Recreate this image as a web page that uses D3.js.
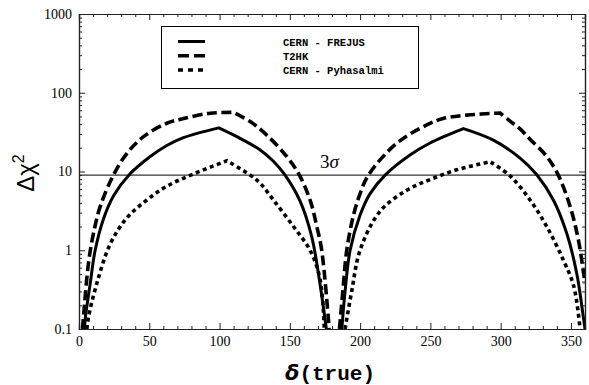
<!DOCTYPE html>
<html><head><meta charset="utf-8">
<script src="https://cdn.jsdelivr.net/npm/d3@7"></script>
<style>html,body{margin:0;padding:0;background:#fff;} svg{display:block;} .tl{font-family:'Liberation Serif','Times New Roman',serif;font-size:14px;}</style>
</head><body>
<svg id="chart" width="589" height="385"></svg>
<script>
// ---- data ----
const seriesNames = ["CERN - FREJUS", "T2HK", "CERN - Pyhasalmi"];

const deltaFrejusA = [3.8, 4.6, 8, 11.5, 17.4, 24.5, 35.7, 50.7, 62.5, 74.3, 99.5, 112.3, 128.9, 138.3, 146, 157.3, 165.6, 170.3, 176];
const chi2FrejusA  = [0.1, 0.143, 0.38, 1.0, 2.5, 4.9, 9.1, 15.5, 21.4, 26.9, 35.8, 27.7, 18.8, 13.5, 9.3, 4.2, 1.48, 0.51, 0.1];
const deltaFrejusB = [187, 189.3, 192.9, 200, 207, 217.8, 235.5, 249.8, 273.5, 294.8, 313.8, 325.7, 337.5, 347, 354.1, 358.8, 360];
const chi2FrejusB  = [0.1, 0.3, 1, 2.8, 5.2, 9, 16.2, 23, 35, 25, 14.8, 9.1, 4.35, 1.64, 0.51, 0.143, 0.1];

const deltaT2hkA = [2.5, 3.2, 6.8, 10.3, 15.1, 24.5, 34, 45.9, 62.5, 74.3, 93.3, 110, 121.8, 133.6, 147.9, 156.8, 164.4, 169.2, 172.7, 178];
const chi2T2hkA  = [0.1, 0.143, 0.7, 1.64, 3.6, 9, 16.9, 27.7, 41, 47, 55, 56.3, 43, 29, 15.4, 9, 4.35, 2.0, 1.0, 0.1];
const deltaT2hkB = [185.3, 187.7, 190.5, 195.2, 200, 205.9, 226, 247.4, 259, 276, 299.6, 306.7, 313.8, 320.9, 332.8, 341, 349.4, 355.3, 360];
const chi2T2hkB  = [0.1, 0.3, 1, 2.75, 5.25, 9, 22.8, 39, 47, 52, 55.3, 43.6, 34.7, 25.7, 15.5, 9, 3.6, 1.35, 0.38];

const deltaPyhA = [5.6, 6.8, 12.7, 22.2, 34, 48.3, 62.5, 81.4, 105.2, 121.8, 128.9, 138.3, 152.6, 164.4, 171.5, 174.5];
const chi2PyhA  = [0.1, 0.143, 0.38, 1.2, 2.57, 4.35, 6.5, 9.3, 13.7, 9, 7.1, 4.35, 2.0, 1.0, 0.43, 0.1];
const deltaPyhB = [189.3, 194, 200, 214, 233, 249.8, 268.7, 292.5, 306.7, 320.9, 332.8, 344.6, 352, 356.5];
const chi2PyhB  = [0.1, 0.3, 1, 3.1, 5.75, 7.9, 10.5, 13.3, 8.8, 4.35, 2.0, 0.75, 0.35, 0.1];

const xTicks = [0, 50, 100, 150, 200, 250, 300, 350];
const yTicks = [0.1, 1, 10, 100, 1000];
const yTickLabels = ["0.1", "1", "10", "100", "1000"];
const sigmaLevel = 9;   // 3 sigma

// ---- layout ----
const svg = d3.select("#chart");
const W = 589, H = 385;
const m = {left: 79, right: 4, top: 14, bottom: 56};
const x = d3.scaleLinear().domain([0, 360]).range([m.left, W - m.right]);
const y = d3.scaleLog().domain([0.1, 1000]).range([H - m.bottom, m.top]);

svg.append("defs").append("clipPath").attr("id", "clip")
  .append("rect").attr("x", x(0)).attr("y", y(1000))
  .attr("width", x(360) - x(0)).attr("height", y(0.1) - y(1000));

const styles = [
  {width: 3, dash: null},
  {width: 3.6, dash: "10,4.5"},
  {width: 3.6, dash: "4,3.5"}
];

const line = d3.line().x(d => x(d[0])).y(d => y(d[1])).curve(d3.curveCatmullRom.alpha(0.5));
function humpPath(ds, vs) {
  const pts = ds.map((d, i) => [d, vs[i]]);
  let k = 0;
  vs.forEach((v, i) => { if (v > vs[k]) k = i; });
  const p1 = line(pts.slice(0, k + 1));
  const p2 = line(pts.slice(k)).replace(/^M[^A-Za-z]*/, "");
  return p1 + p2;
}
const curves = [
  [[deltaFrejusA, chi2FrejusA], [deltaFrejusB, chi2FrejusB]],
  [[deltaT2hkA, chi2T2hkA], [deltaT2hkB, chi2T2hkB]],
  [[deltaPyhA, chi2PyhA], [deltaPyhB, chi2PyhB]]
];

const plot = svg.append("g").attr("clip-path", "url(#clip)");
curves.forEach((humps, si) => {
  humps.forEach(h => {
    plot.append("path").attr("d", humpPath(h[0], h[1]))
      .attr("fill", "none").attr("stroke", "#000")
      .attr("stroke-width", styles[si].width)
      .attr("stroke-dasharray", styles[si].dash);
  });
});

// 3 sigma line
svg.append("line").attr("x1", x(0)).attr("x2", x(360))
  .attr("y1", y(sigmaLevel)).attr("y2", y(sigmaLevel))
  .attr("stroke", "#000").attr("stroke-width", 1);
svg.append("text").attr("x", 320).attr("y", 168)
  .style("font-family", "'Liberation Serif', serif").style("font-size", "19px")
  .html('3<tspan font-style="italic">σ</tspan>');

// ---- axes (ticks inward) ----
const axisColor = "#222";
const minorX = d3.range(0, 361, 10).filter(v => v % 50 !== 0);
const minorY = [];
[0.1, 1, 10, 100].forEach(dec => { for (let k = 2; k <= 9; k++) minorY.push(dec * k); });

const axB = svg.append("g").attr("transform", `translate(0,${y(0.1)})`)
  .call(d3.axisBottom(x).tickValues(xTicks).tickSize(-6).tickPadding(7).tickFormat(d3.format("d")));
const axT = svg.append("g").attr("transform", `translate(0,${y(1000)})`)
  .call(d3.axisTop(x).tickValues(xTicks).tickSize(-6).tickFormat(""));
const axBm = svg.append("g").attr("transform", `translate(0,${y(0.1)})`)
  .call(d3.axisBottom(x).tickValues(minorX).tickSize(-3).tickFormat(""));
const axTm = svg.append("g").attr("transform", `translate(0,${y(1000)})`)
  .call(d3.axisTop(x).tickValues(minorX).tickSize(-3).tickFormat(""));
const axL = svg.append("g").attr("transform", `translate(${x(0)},0)`)
  .call(d3.axisLeft(y).tickValues(yTicks).tickSize(-6).tickPadding(7).tickFormat((d, i) => yTickLabels[i]));
const axR = svg.append("g").attr("transform", `translate(${x(360)},0)`)
  .call(d3.axisRight(y).tickValues(yTicks).tickSize(-6).tickFormat(""));
const axLm = svg.append("g").attr("transform", `translate(${x(0)},0)`)
  .call(d3.axisLeft(y).tickValues(minorY).tickSize(-3).tickFormat(""));
const axRm = svg.append("g").attr("transform", `translate(${x(360)},0)`)
  .call(d3.axisRight(y).tickValues(minorY).tickSize(-3).tickFormat(""));

[axB, axT, axBm, axTm, axL, axR, axLm, axRm].forEach(g => {
  g.attr("font-family", "Liberation Serif").attr("font-size", 14);
  g.selectAll("path.domain").attr("stroke", axisColor).attr("stroke-width", 1.2);
  g.selectAll(".tick line").attr("stroke", axisColor).attr("stroke-width", 1);
  g.selectAll("text").attr("class", "tl").attr("fill", "#000");
});

// axis titles
svg.append("text").attr("x", 330).attr("y", 380).attr("text-anchor", "middle")
  .style("font-size", "21px").style("font-weight", "bold")
  .html('<tspan style="font-family:\'DejaVu Sans\';font-style:italic">δ</tspan><tspan style="font-family:\'Liberation Mono\'">(true)</tspan>');
svg.append("text").attr("transform", "translate(34,173) rotate(-90)")
  .attr("text-anchor", "middle").style("font-family", "'Liberation Sans', sans-serif").style("font-size", "24px")
  .html('Δχ<tspan dy="-10" style="font-size:16px">2</tspan>');

// ---- legend ----
const lg = svg.append("g");
lg.append("rect").attr("x", 161.5).attr("y", 26.5).attr("width", 257).attr("height", 62)
  .attr("fill", "#fff").attr("stroke", "#000").attr("stroke-width", 1);
const legendDash = [null, "11,5", "5,5"];
seriesNames.forEach((name, i) => {
  const yy = 41.5 + i * 14.2;
  lg.append("line").attr("x1", 178).attr("x2", i === 2 ? 203 : 205).attr("y1", yy).attr("y2", yy)
    .attr("stroke", "#000").attr("stroke-width", i === 0 ? 3 : 3.5)
    .attr("stroke-dasharray", legendDash[i]);
  lg.append("text").attr("x", 283).attr("y", yy + 4)
    .style("font-family", "'Liberation Mono', monospace").style("font-weight", "bold").style("font-size", "10.5px")
    .text(name);
});
</script>
</body></html>
